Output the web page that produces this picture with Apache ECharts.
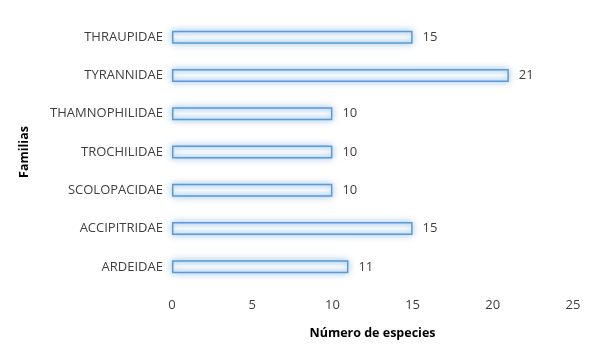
<!DOCTYPE html>
<html><head><meta charset="utf-8">
<script src="https://cdn.jsdelivr.net/npm/echarts@6/dist/echarts.min.js"></script>
<style>html,body{margin:0;padding:0;background:#fff}#c{width:600px;height:359px}</style>
</head><body><div id="c"></div>
<script>
const categories = ['ARDEIDAE','ACCIPITRIDAE','SCOLOPACIDAE','TROCHILIDAE','THAMNOPHILIDAE','TYRANNIDAE','THRAUPIDAE'];
const values = [11,15,10,10,10,21,15];
const xTicks = [0,5,10,15,20,25];
const font = '"Open Sans", "Liberation Sans", sans-serif';
const chart = echarts.init(document.getElementById('c'));
chart.setOption({
  animation:false,
  grid:{left:172,right:27,top:18,bottom:73},
  xAxis:{type:'value',min:xTicks[0],max:xTicks[xTicks.length-1],interval:5,
    axisLine:{show:false},axisTick:{show:false},splitLine:{show:false},
    axisLabel:{color:'#404040',fontSize:13,fontFamily:font,margin:13},
    name:'Número de especies',nameLocation:'middle',nameGap:41,
    nameTextStyle:{color:'#000',fontSize:12.5,fontWeight:'bold',fontFamily:font}},
  yAxis:{type:'category',data:categories,
    axisLine:{show:false},axisTick:{show:false},splitLine:{show:false},
    axisLabel:{color:'#404040',fontSize:13,fontFamily:font,margin:9},
    name:'Familias',nameLocation:'middle',nameGap:141,nameRotate:90,
    nameTextStyle:{color:'#000',fontSize:12.5,fontWeight:'bold',fontFamily:font}},
  series:[{type:'bar',data:values,barWidth:13,
    itemStyle:{
      color:new echarts.graphic.LinearGradient(0,0,0,1,[
        {offset:0,color:'#c9e0f6'},{offset:0.5,color:'#ffffff'},{offset:1,color:'#c9e0f6'}]),
      borderColor:'#5b9bd5',borderWidth:1.5,
      shadowColor:'rgba(91,155,213,0.55)',shadowBlur:7},
    label:{show:true,position:'right',distance:10,color:'#404040',fontSize:13,fontFamily:font}
  }]
});
</script></body></html>
